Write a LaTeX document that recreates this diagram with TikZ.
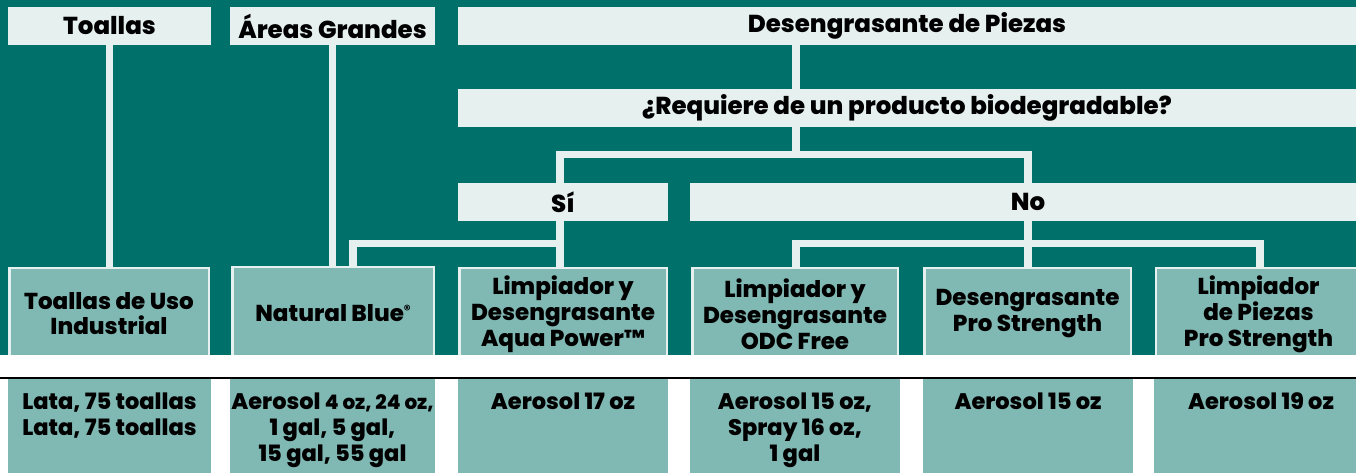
\documentclass[tikz,border=0pt]{standalone}
\usepackage{fontspec}
\setmainfont{Poppins}[BoldFont={Poppins ExtraBold}]
\definecolor{dark}{HTML}{00716A}
\definecolor{lite}{HTML}{E6F0EF}
\definecolor{mid}{HTML}{80B8B4}
\newcommand{\hfont}{\fontsize{24.5}{29}\bfseries\selectfont}
\newcommand{\pfont}{\fontsize{23}{26}\bfseries\selectfont}
\newcommand{\bfontsz}{\fontsize{22.5}{26}\bfseries\selectfont}
\begin{document}
\begin{tikzpicture}[x=1pt,y=-1pt,
  hdr/.style={fill=lite, draw=none, inner sep=0pt, font=\hfont, text=black},
  prod/.style={fill=mid, draw=lite, line width=2.5pt, inner sep=0pt, font=\pfont, align=center, minimum height=92.5pt},
  bot/.style={fill=mid, draw=none, inner sep=0pt, minimum height=94pt},
  btxt/.style={inner sep=0pt, font=\bfontsz, align=center, anchor=north},
  conn/.style={draw=lite, line width=7.5pt}]
\useasboundingbox (0,0) rectangle (1356,473);
\fill[dark] (0,0) rectangle (1356,355);

% headers
\node[hdr, minimum width=203pt, minimum height=38pt] (toallasH) at (109.5,26) {Toallas};
\node[hdr, minimum width=205pt, minimum height=38pt] (areasH) at (332.5,26) {Áreas Grandes};
\node[hdr, minimum width=898pt, minimum height=38pt] (desH) at (907,26) {Desengrasante de Piezas};
\node[hdr, minimum width=898pt, minimum height=38pt] (reqH) at (907,108) {¿Requiere de un producto biodegradable?};
\node[hdr, minimum width=210pt, minimum height=38pt] (si) at (563,202) {Sí};
\node[hdr, minimum width=666pt, minimum height=38pt, text width=666pt, align=center] (no) at (1023,202) {\hspace*{10pt}No};

% branch points
\coordinate (br1) at (796,154.5);
\coordinate (sib) at (560,243.5);
\coordinate (nob) at (1028,243.5);

% connectors
\draw[conn] (toallasH.south) -- (toallasH.south |- 0,267);
\draw[conn] (areasH.south) -- (areasH.south |- 0,267);
\draw[conn] (desH.south -| br1) -- (reqH.north -| br1);
\draw[conn] (reqH.south -| br1) -- (br1);
\draw[conn] (sib |- si.north) |- (br1) -| (nob |- no.north);
\draw[conn] (sib |- si.south) -- (sib |- 0,267);
\draw[conn] (sib) -| (353,267);
\draw[conn] (nob |- no.south) -- (nob |- 0,267);
\draw[conn] (796,267) |- (nob) -| (1260,267);

% product boxes
\node[prod, minimum width=199.5pt] (p1) at (109,314) {Toallas de Uso\\[-1pt]Industrial};
\node[prod, minimum width=201.5pt] (p2) at (333,313) {Natural Blue\raisebox{7pt}{\fontsize{13}{13}\selectfont ®}};
\node[prod, minimum width=207.5pt] (p3) at (563,314) {Limpiador y\\Desengrasante\\Aqua Power™};
\node[prod, minimum width=205.5pt] (p4) at (795,314) {Limpiador y\\Desengrasante\\ODC Free};
\node[prod, minimum width=206.5pt] (p5) at (1027.5,314) {Desengrasante\\Pro Strength};
\node[prod, minimum width=205pt] (p6) at (1258.5,314) {Limpiador\\de Piezas\\Pro Strength};

% white band and rule
\fill[white] (0,355) rectangle (1356,473);
\draw[black, line width=1.8pt] (0,378.2) -- (1356,378.2);

% bottom boxes
\node[bot, minimum width=203pt] (b1) at (109.5,426) {};
\node[bot, minimum width=205pt] (b2) at (332.5,426) {};
\node[bot, minimum width=210pt] (b3) at (563,426) {};
\node[bot, minimum width=210pt] (b4) at (795,426) {};
\node[bot, minimum width=210pt] (b5) at (1028,426) {};
\node[bot, minimum width=206pt] (b6) at (1257,426) {};

\node[btxt] (t1) at ([yshift=-14pt]b1.north) {Lata, 75 toallas\\Lata, 75 toallas};
\node[btxt] (t2) at ([yshift=-14pt]b2.north) {Aerosol {\fontsize{20}{26}\selectfont 4 oz, 24 oz,}\\1 gal, 5 gal,\\15 gal, 55 gal};
\node[btxt] (t3) at ([yshift=-14pt]b3.north) {Aerosol 17 oz};
\node[btxt] (t4) at ([yshift=-14pt]b4.north) {Aerosol 15 oz,\\Spray 16 oz,\\1 gal};
\node[btxt] (t5) at ([yshift=-14pt]b5.north) {Aerosol 15 oz};
\node[btxt] (t6) at ([yshift=-14pt,xshift=4pt]b6.north) {Aerosol 19 oz};
\end{tikzpicture}
\end{document}
